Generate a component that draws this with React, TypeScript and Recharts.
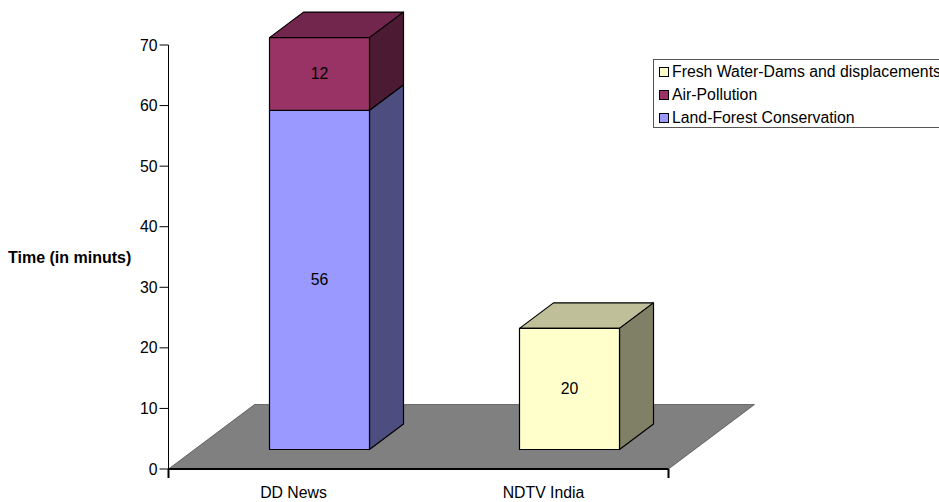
import React from 'react';
import { BarChart, Bar, XAxis, YAxis, ReferenceArea, Legend } from 'recharts';

const categories = ['DD News', 'NDTV India'];
const landForest = [56, null];
const airPollution = [12, null];
const freshWater = [null, 20];
const yTicks = [0, 10, 20, 30, 40, 50, 60, 70];
const edgeTicks = [0, 1, 2];

const chartData = categories.map((name, i) => ({
    name,
    land: landForest[i],
    air: airPollution[i],
    fresh: freshWater[i],
}));

const FONT = '"Liberation Sans", Arial, sans-serif';
const FONT_SIZE = 15.8;

// 3D look: how far the box back edge sits from the front one
const DEPTH_X = 34;
const DEPTH_Y = 25.5;
// boxes stand in the middle of the floor, not on its front edge
const LIFT_X = 26;
const LIFT_Y = 19.5;
const FLOOR_X = 86;
const FLOOR_Y = 64.5;

const shade = (hex: string, k: number) => {
    const n = parseInt(hex.slice(1), 16);
    const part = (v: number) => Math.round(v * k);
    return `rgb(${part(n >> 16)},${part((n >> 8) & 255)},${part(n & 255)})`;
};

const Box = (props: any) => {
    const { x, y, width, height, fill, dataKey, payload } = props;
    if (!height || height <= 0) return null;
    const left = x + LIFT_X;
    const right = left + width;
    const top = y - LIFT_Y;
    const bottom = top + height;
    return (
        <g stroke="#000" strokeWidth={1.2} strokeLinejoin="round">
            <polygon
                points={`${left},${top} ${left + DEPTH_X},${top - DEPTH_Y} ${right + DEPTH_X},${top - DEPTH_Y} ${right},${top}`}
                fill={shade(fill, 0.75)}
            />
            <polygon
                points={`${right},${top} ${right + DEPTH_X},${top - DEPTH_Y} ${right + DEPTH_X},${bottom - DEPTH_Y} ${right},${bottom}`}
                fill={shade(fill, 0.5)}
            />
            <rect x={left} y={top} width={width} height={height} fill={fill} />
            <text
                x={left + width / 2}
                y={top + height / 2}
                textAnchor="middle"
                dominantBaseline="central"
                fontFamily={FONT}
                fontSize={FONT_SIZE}
                fill="#000"
                stroke="none"
            >
                {payload[dataKey]}
            </text>
        </g>
    );
};

const Floor = (props: any) => {
    const { x, y, width, height } = props;
    const base = y + height;
    return (
        <polygon
            points={`${x},${base} ${x + FLOOR_X},${base - FLOOR_Y} ${x + width + FLOOR_X},${base - FLOOR_Y} ${x + width},${base}`}
            fill="#808080"
            stroke="#333"
            strokeWidth={0.6}
        />
    );
};

const LegendBox = ({ payload }: any) => {
    const rows = [...(payload || [])].reverse();
    return (
        <div
            style={{
                width: 300,
                height: 69,
                boxSizing: 'border-box',
                border: '1px solid #555',
                background: '#fff',
                paddingLeft: 5,
                fontFamily: FONT,
                fontSize: FONT_SIZE,
                color: '#000',
            }}
        >
            {rows.map((row: any) => (
                <div key={row.value} style={{ height: 23, display: 'flex', alignItems: 'center' }}>
                    <span
                        style={{
                            width: 10,
                            height: 10,
                            boxSizing: 'border-box',
                            border: '1px solid #000',
                            background: row.color,
                            marginRight: 3,
                        }}
                    />
                    {row.value}
                </div>
            ))}
        </div>
    );
};

export default function App() {
    const tickStyle = { fontFamily: FONT, fontSize: FONT_SIZE, fill: '#000' };
    return (
        <div style={{ position: 'absolute', left: 0, top: 0, width: 939, height: 502, overflow: 'hidden', background: '#fff' }}>
            <BarChart
                width={939}
                height={502}
                data={chartData}
                barSize={100}
                margin={{ top: 45, right: 270.5, bottom: 0, left: 0 }}
            >
                {/* numeric axis only for the tick marks between the categories, has to stack first */}
                <XAxis
                    type="number"
                    domain={[0, 2]}
                    ticks={edgeTicks}
                    tickFormatter={() => ''}
                    tickSize={9}
                    height={1}
                    stroke="#000"
                    strokeWidth={2}
                />
                <XAxis
                    xAxisId={1}
                    dataKey="name"
                    height={32}
                    axisLine={false}
                    tickLine={false}
                    tickMargin={11}
                    tick={tickStyle}
                />
                <YAxis
                    width={168.5}
                    domain={[0, 70]}
                    ticks={yTicks}
                    tickSize={9}
                    tick={tickStyle}
                    stroke="#000"
                    label={{
                        value: 'Time (in minuts)',
                        position: 'insideLeft',
                        offset: 8,
                        style: { fontFamily: FONT, fontSize: 16, fontWeight: 'bold', fill: '#000' },
                    }}
                />
                <ReferenceArea y1={0} y2={70} shape={<Floor />} />
                <Legend
                    content={<LegendBox />}
                    layout="vertical"
                    align="center"
                    verticalAlign="middle"
                    itemSorter={null}
                    wrapperStyle={{ position: 'absolute', left: 653, top: 59, width: 300, bottom: 'auto', right: 'auto' }}
                />
                <Bar xAxisId={1} dataKey="land" name="Land-Forest Conservation" stackId="a" fill="#9999FF" shape={<Box />} isAnimationActive={false} />
                <Bar xAxisId={1} dataKey="air" name="Air-Pollution" stackId="a" fill="#993366" shape={<Box />} isAnimationActive={false} />
                <Bar xAxisId={1} dataKey="fresh" name="Fresh Water-Dams and displacements" stackId="a" fill="#FFFFCC" shape={<Box />} isAnimationActive={false} />
            </BarChart>
        </div>
    );
}
